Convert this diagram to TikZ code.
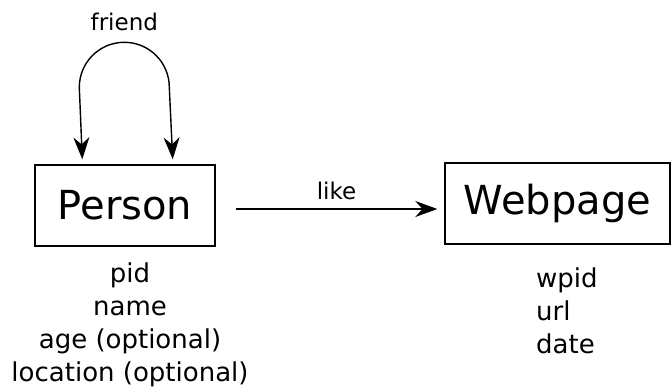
\documentclass[tikz,border=0pt]{standalone}
\usepackage{fontspec}
\setmainfont{DejaVu Sans}
\usetikzlibrary{arrows.meta}
\usetikzlibrary{positioning}

\begin{document}
\begin{tikzpicture}[x=10pt,y=10pt,>={Stealth[length=22pt,width=16pt]},
    entity/.style={draw,line width=1.4pt,minimum height=81pt,inner sep=0pt,font=\fontsize{40}{48}\selectfont},
    attr/.style={inner sep=0pt,font=\fontsize{26}{33}\selectfont},
    rel/.style={font=\fontsize{23}{28}\selectfont},
    link/.style={->,line width=1.4pt}]
    \useasboundingbox (0,0) rectangle (67.1,38.6);

    \node[entity,minimum width=180pt] (Person) at (12.5,18.05) {Person};
    \node[entity,minimum width=225pt] (Webpage) at (55.75,18.25) {Webpage};

    \node[attr,align=center,anchor=north] (PersonAttr) at (13.0,12.3) {pid\\name\\age (optional)\\location (optional)};
    \node[attr,align=left,anchor=north west] (WebpageAttr) at (53.6,11.8) {wpid\\url\\date};

    \coordinate (f0) at ([shift={(4.8,0.5)}]Person.north west);
    \coordinate (f1) at ([shift={(-4.3,0.5)}]Person.north east);
    \draw[link,<->] (f0) -- ++(-0.3,7.2) arc[start angle=180,end angle=90,radius=4.5] coordinate (ftop)
        arc[start angle=90,end angle=0,radius=4.5] -- (f1);
    \node[rel,above=8pt of ftop] (friend) {friend};

    \draw[link] ([shift={(2,-0.35)}]Person.east) -- ([shift={(-0.7,-0.55)}]Webpage.west)
        node[rel,midway,above=5pt] (like) {like};
\end{tikzpicture}
\end{document}
